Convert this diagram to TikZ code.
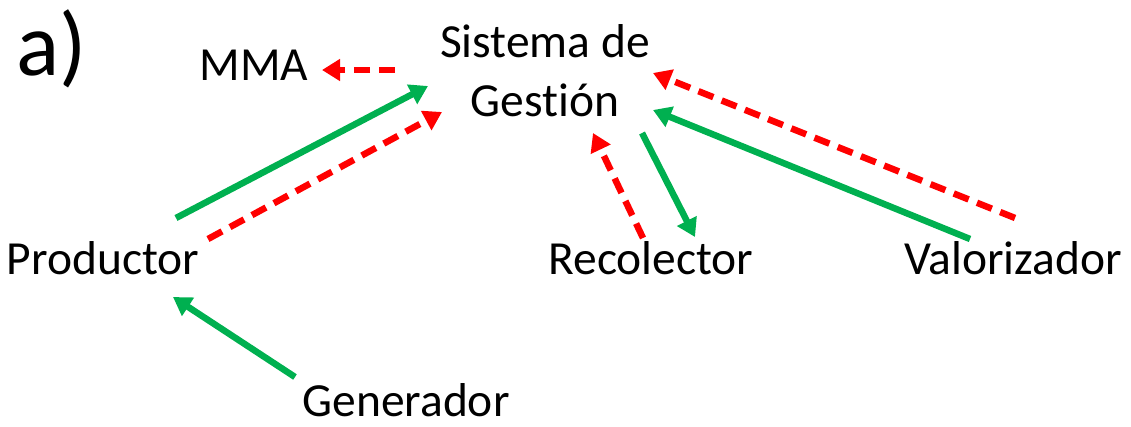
\documentclass[tikz,border=0pt]{standalone}
\usepackage{fontspec}
\setmainfont{Carlito}[Ligatures=NoCommon]
\usetikzlibrary{arrows.meta, positioning}
\definecolor{flowgreen}{HTML}{00B050}
\definecolor{flowred}{HTML}{FF0000}
\tikzstyle{actor} = [inner sep=0pt, anchor=base, font=\fontsize{47.5}{59}\selectfont, align=center]
\tikzstyle{goods} = [line width=6.5pt, draw=flowgreen, -{Triangle[length=18pt,width=21pt]}]
\tikzstyle{info} = [line width=6.5pt, draw=flowred, dash pattern=on 16pt off 9pt, -{Triangle[length=18pt,width=21pt]}]

\begin{document}
\begin{tikzpicture}[x=1pt, y=-1pt]
		\useasboundingbox (0,0) rectangle (1131,426);
		\node (Label) [inner sep=0pt, anchor=base, font=\fontsize{90}{90}\selectfont] at (52,75) {a)};
		\node (Sistema) [actor] at (545,116) {Sistema de\\Gest\kern0pt i\'on};
		\node (MMA) [actor] at (254,80) {MMA};
		\node (Productor) [actor] at (103,274) {Productor};
		\node (Recolector) [actor] at (651,274) {Recolector};
		\node (Valorizador) [actor] at (1013,274) {Valorizador};
		\node (Generador) [actor] at (406,416) {Generador};
		% ends of the arrows
		\coordinate (SisMMA) at (395,70);
		\coordinate (MMAin) at (322,70);
		\coordinate (ProdOutG) at (176,218);
		\coordinate (SisInG) at (428,86);
		\coordinate (ProdOutR) at (208,239);
		\coordinate (SisInR) at (442,112);
		\coordinate (RecOutR) at (643,238);
		\coordinate (SisInRec) at (593,133);
		\coordinate (SisOutRec) at (642,133);
		\coordinate (RecIn) at (695,237);
		\coordinate (ValOutG) at (970,239);
		\coordinate (SisInValG) at (653,110);
		\coordinate (ValOutR) at (1015,218);
		\coordinate (SisInValR) at (653,73);
		\coordinate (GenOut) at (295,377);
		\coordinate (ProdIn) at (173,297);
		\draw [info] (SisMMA) -- (MMAin);
		\draw [goods] (ProdOutG) -- (SisInG);
		\draw [info] (ProdOutR) -- (SisInR);
		\draw [info] (RecOutR) -- (SisInRec);
		\draw [goods] (SisOutRec) -- (RecIn);
		\draw [goods] (ValOutG) -- (SisInValG);
		\draw [info] (ValOutR) -- (SisInValR);
		\draw [goods] (GenOut) -- (ProdIn);
\end{tikzpicture}
\end{document}
